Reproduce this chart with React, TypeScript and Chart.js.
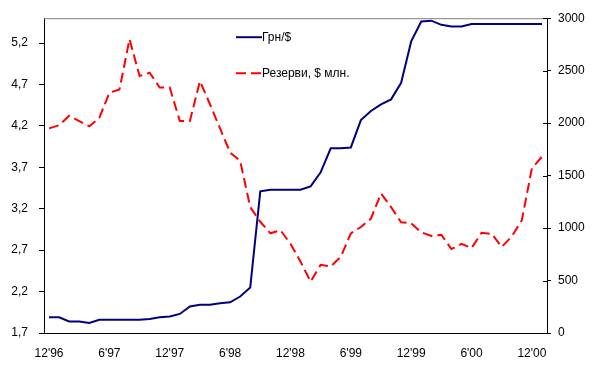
import React, { useEffect, useRef } from "react";
import { Chart, registerables } from "chart.js";

Chart.register(...registerables);

const categories: string[] = [
  "12'96",
  "1'97", "2'97", "3'97", "4'97", "5'97", "6'97", "7'97", "8'97", "9'97", "10'97", "11'97", "12'97",
  "1'98", "2'98", "3'98", "4'98", "5'98", "6'98", "7'98", "8'98", "9'98", "10'98", "11'98", "12'98",
  "1'99", "2'99", "3'99", "4'99", "5'99", "6'99", "7'99", "8'99", "9'99", "10'99", "11'99", "12'99",
  "1'00", "2'00", "3'00", "4'00", "5'00", "6'00", "7'00", "8'00", "9'00", "10'00", "11'00", "12'00",
  "1'01",
];

const xTickLabels: string[] = ["12'96", "6'97", "12'97", "6'98", "12'98", "6'99", "12'99", "6'00", "12'00"];

const hryvniaPerUsd: number[] = [
  1.89, 1.89, 1.84, 1.84, 1.82, 1.86, 1.86, 1.86, 1.86, 1.86, 1.87, 1.89, 1.9,
  1.93, 2.02, 2.04, 2.04, 2.06, 2.07, 2.14, 2.25, 3.41, 3.43, 3.43, 3.43,
  3.43, 3.47, 3.64, 3.93, 3.93, 3.94, 4.27, 4.38, 4.46, 4.52, 4.72, 5.22,
  5.46, 5.47, 5.42, 5.4, 5.4, 5.43, 5.43, 5.43, 5.43, 5.43, 5.43, 5.43,
  5.43,
];

const reservesMlnUsd: number[] = [
  1950, 1980, 2070, 2020, 1970, 2050, 2290, 2320, 2800, 2450, 2480, 2340, 2340,
  2020, 2020, 2400, 2180, 1950, 1720, 1640, 1200, 1060, 950, 980, 850,
  680, 490, 650, 635, 725, 950, 1010, 1090, 1330, 1200, 1055, 1045,
  960, 925, 935, 800, 850, 810, 955, 945, 820, 920, 1075, 1570,
  1680,
];

const leftTicks: number[] = [1.7, 2.2, 2.7, 3.2, 3.7, 4.2, 4.7, 5.2];
const rightTicks: number[] = [0, 500, 1000, 1500, 2000, 2500, 3000];

const seriesNames: string[] = ["Грн/$", "Резерви, $ млн."];

const FONT = "'Liberation Sans', Arial, sans-serif";

const framePlugin = {
  id: "frame",
  afterDraw(chart: any) {
    const { ctx, chartArea } = chart;
    ctx.save();
    // top border
    ctx.strokeStyle = "#808080";
    ctx.lineWidth = 1;
    ctx.beginPath();
    ctx.moveTo(chartArea.left, chartArea.top + 0.5);
    ctx.lineTo(chartArea.right, chartArea.top + 0.5);
    ctx.stroke();
    // inner tick marks on right axis
    const s = chart.scales.y1;
    ctx.strokeStyle = "#000";
    s.ticks.forEach((t: any) => {
      const y = Math.round(s.getPixelForValue(t.value)) + 0.5;
      ctx.beginPath();
      ctx.moveTo(chartArea.right - 4, y);
      ctx.lineTo(chartArea.right, y);
      ctx.stroke();
    });
    // legend
    const ds = chart.data.datasets;
    const x0 = chartArea.left + 192;
    const rows = [chartArea.top + 19, chartArea.top + 55];
    ds.forEach((d: any, i: number) => {
      const y = rows[i];
      ctx.strokeStyle = d.borderColor;
      ctx.lineWidth = d.borderWidth;
      ctx.setLineDash(d.borderDash || []);
      ctx.beginPath();
      ctx.moveTo(x0, y);
      ctx.lineTo(x0 + 26, y);
      ctx.stroke();
      ctx.setLineDash([]);
      ctx.fillStyle = "#000";
      ctx.font = `12px ${FONT}`;
      ctx.textBaseline = "middle";
      ctx.textAlign = "left";
      ctx.fillText(d.label, x0 + 26, y);
    });
    ctx.restore();
  },
};

export default function App() {
  const canvasRef = useRef<HTMLCanvasElement | null>(null);

  useEffect(() => {
    if (!canvasRef.current) return;
    Chart.defaults.font.family = FONT;
    Chart.defaults.font.size = 12;
    Chart.defaults.color = "#000";
    const chart = new Chart(canvasRef.current, {
      type: "line",
      data: {
        labels: categories,
        datasets: [
          {
            label: seriesNames[0],
            data: hryvniaPerUsd,
            yAxisID: "y",
            borderColor: "#000080",
            backgroundColor: "#000080",
            borderWidth: 2,
            pointRadius: 0,
            tension: 0,
          },
          {
            label: seriesNames[1],
            data: reservesMlnUsd,
            yAxisID: "y1",
            borderColor: "#FF0000",
            backgroundColor: "#FF0000",
            borderWidth: 2,
            borderDash: [10, 5],
            pointRadius: 0,
            tension: 0,
          },
        ],
      },
      options: {
        animation: false,
        responsive: false,
        layout: { padding: { top: 17, left: 0, right: 0, bottom: 0 } },
        plugins: {
          legend: { display: false },
          tooltip: { enabled: false },
        },
        scales: {
          x: {
            type: "category",
            offset: true,
            grid: { display: true, drawOnChartArea: false, drawTicks: false, color: "rgba(0,0,0,0)" },
            border: { display: true, color: "#000", width: 1 },
            ticks: {
              autoSkip: false,
              maxRotation: 0,
              minRotation: 0,
              padding: 13,
              color: "#000",
              font: { size: 12, family: FONT },
              callback: (_v: any, i: number) =>
                xTickLabels.includes(categories[i]) ? categories[i] : "",
            },
            afterFit: (s: any) => {
              s.height = 40;
            },
          },
          y: {
            type: "linear",
            position: "left",
            min: 1.7,
            max: 5.5,
            grid: { display: true, drawOnChartArea: false, drawTicks: true, tickLength: 5, color: "#000" },
            border: { display: true, color: "#000", width: 1 },
            ticks: {
              padding: 11,
              color: "#000",
              font: { size: 12, family: FONT },
              callback: (v: any) => Number(v).toFixed(1).replace(".", ","),
            },
            afterBuildTicks: (s: any) => {
              s.ticks = leftTicks.map((v) => ({ value: v }));
            },
            afterFit: (s: any) => {
              s.width = 44;
            },
          },
          y1: {
            type: "linear",
            position: "right",
            min: 0,
            max: 3000,
            grid: { display: true, drawOnChartArea: false, drawTicks: true, tickLength: 4, color: "#000" },
            border: { display: true, color: "#000", width: 1 },
            ticks: {
              padding: 7,
              color: "#000",
              font: { size: 12, family: FONT },
              callback: (v: any) => String(v),
            },
            afterBuildTicks: (s: any) => {
              s.ticks = rightTicks.map((v) => ({ value: v }));
            },
            afterFit: (s: any) => {
              s.width = 53;
            },
          },
        },
      },
      plugins: [framePlugin],
    } as any);
    return () => chart.destroy();
  }, []);

  return (
    <div style={{ position: "fixed", left: 0, top: 0, width: 600, height: 373, background: "#fff" }}>
      <canvas ref={canvasRef} width={600} height={373} />
    </div>
  );
}
